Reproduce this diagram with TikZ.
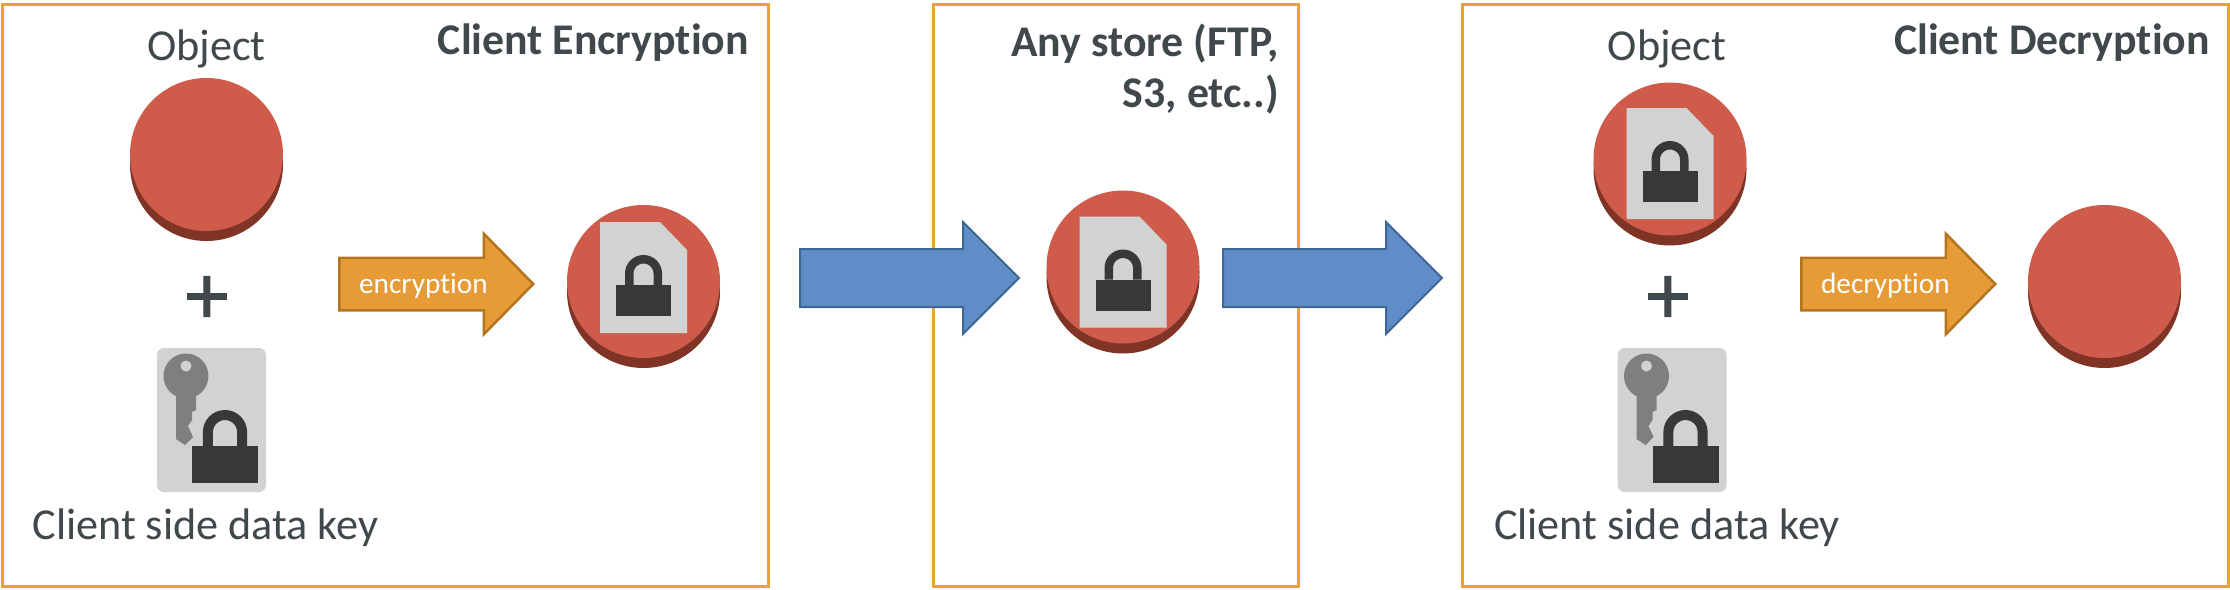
\documentclass[tikz,border=0pt]{standalone}
\usepackage{xcolor}
\usepackage{fontspec}
\setmainfont[Ligatures=NoCommon]{Carlito}
\newfontfamily\plusfont[FakeBold=1.2]{Carlito}
\usetikzlibrary{arrows.meta,positioning,shapes.arrows,shadows}
\definecolor{panelline}{HTML}{E9A23A}
\definecolor{diskred}{HTML}{CF5C4B}
\definecolor{diskdark}{HTML}{7F3426}
\definecolor{cardgrey}{HTML}{D1D3D3}
\definecolor{keygrey}{HTML}{7F7F7F}
\definecolor{lockdark}{HTML}{383838}
\definecolor{orangefill}{HTML}{E69B37}
\definecolor{orangeline}{HTML}{B3761F}
\definecolor{bluefill}{HTML}{5F8DC8}
\definecolor{blueline}{HTML}{3E6796}
\definecolor{inktext}{HTML}{40484B}
\tikzset{
  padlock/.pic={
    \fill[lockdark] (-27.5,-15.5) rectangle (27.5,15.5);
    \draw[lockdark] (-14.25,15.5) -- (-14.25,27) arc (180:0:14.25) -- (14.25,15.5);
  },
  lockeddoc/.pic={
    \fill[cardgrey] (-43.5,-55.5) -- (-43.5,55.5) -- (16.5,55.5) -- (43.5,27.5) -- (43.5,-55.5) -- cycle;
    \pic[line width=8.5pt] at (0,-23) {padlock};
  },
  keyandlock/.pic={
    \fill[keygrey] (-25.5,44) circle (22.5);
    \fill[keygrey] (-35.5,25) -- (-35.5,-19) -- (-26.5,-25) -- (-18.5,-17) -- (-23.5,-6) -- (-19.5,0)
      -- (-19.5,8) -- (-15.5,10) -- (-15.5,25) -- cycle;
    \fill[cardgrey] (-25.5,54) circle (5.5);
    \pic[scale=1.2,line width=10pt] at (13.5,-44.5) {padlock};
  }
}
\begin{document}
\begin{tikzpicture}[x=1pt,y=1pt,node distance=10pt]
  \tikzstyle{panel}=[draw=panelline,line width=3pt,minimum height=582pt,inner sep=0pt]
  \tikzstyle{disk}=[circle,fill=diskred,minimum size=153pt,inner sep=0pt,general shadow={fill=diskdark,shadow yshift=-10pt}]
  \tikzstyle{keycard}=[fill=cardgrey,rounded corners=7pt,minimum width=109pt,minimum height=144pt,inner sep=0pt]
  \tikzstyle{plain}=[text=inktext,font=\fontsize{44.2}{50}\selectfont,inner sep=0pt]
  \tikzstyle{title}=[text=inktext,font=\fontsize{43.8}{51}\selectfont\bfseries,align=right,inner sep=0pt,anchor=north east]
  \tikzstyle{plus}=[text=inktext,font=\plusfont\fontsize{86}{88}\selectfont,inner sep=0pt]
  \tikzstyle{orangearrow}=[single arrow,draw=orangeline,fill=orangefill,line width=2.5pt,single arrow head extend=24pt,
    single arrow tip angle=91,single arrow head indent=0pt,text height=19pt,text depth=0pt,inner ysep=15.5pt,inner xsep=0pt,
    minimum height=194pt,anchor=tail,text=white,font=\fontsize{29.3}{30}\selectfont]
  \tikzstyle{bluearrow}=[single arrow,draw=blueline,fill=bluefill,line width=2pt,single arrow head extend=27pt,
    single arrow tip angle=90,single arrow head indent=0pt,inner ysep=28pt,inner xsep=0pt,minimum height=219pt,anchor=tail]
  \useasboundingbox (0,0) rectangle (2230,-589);

  \node[panel,minimum width=766pt] (encbox) at (385.5,-295) {};
  \node[panel,minimum width=365pt] (storebox) at (1115.5,-295) {};
  \node[panel,minimum width=766pt] (decbox) at (1845,-295) {};
  \node[title] (enctitle) at (749,-24) {Client Encryption};
  \node[title] (storetitle) at (1279,-24) {Any store (FTP,\\S3, etc..)};
  \node[title] (dectitle) at (2210,-24) {Client Decryption};

  \node[disk] (objdisk) at (206.5,-154.5) {};
  \node[plain,above=10pt of objdisk] (objlabel) {Object};
  \node[plus] (encplus) at (207,-300) {+};
  \node[keycard] (enckey) at (211.5,-420) {};
  \node[plain,below=16pt of enckey,xshift=-6pt] (enckeylabel) {Client side data key};
  \node[orangearrow] (encarrow) at (338,-284) {encryption};
  \node[disk] (encdisk) at (643.5,-281.5) {};

  \node[bluearrow] (inarrow) at (799,-278) {};
  \node[disk] (storedisk) at (1123,-267) {};
  \node[bluearrow] (outarrow) at (1222,-278) {};

  \node[disk] (srcdisk) at (1670,-159) {};
  \node[plain,above=14pt of srcdisk,xshift=-3pt] (srclabel) {Object};
  \node[plus] (decplus) at (1668,-300) {+};
  \node[keycard] (deckey) at (1672,-420) {};
  \node[plain,below=16pt of deckey,xshift=-5pt] (deckeylabel) {Client side data key};
  \node[orangearrow] (decarrow) at (1800,-284) {decryption};
  \node[disk] (plaindisk) at (2104.5,-281.5) {};

  \foreach \d/\s in {encdisk/4,storedisk/-5,srcdisk/-4.5}
    \pic at ([yshift=\s pt]\d.center) {lockeddoc};
  \foreach \k in {enckey,deckey}
    \pic at (\k.center) {keyandlock};
\end{tikzpicture}
\end{document}
